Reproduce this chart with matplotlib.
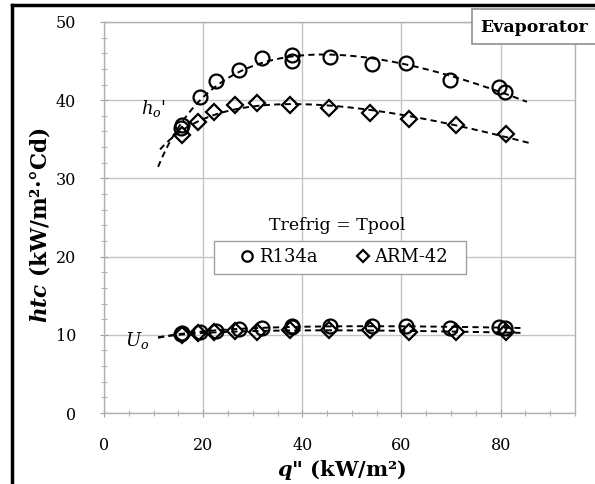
import numpy as np
import matplotlib
matplotlib.use("Agg")
import matplotlib.pyplot as plt
from matplotlib.lines import Line2D
from matplotlib.patches import Rectangle

# ---------------- data ----------------
q_r134a = [15.5, 15.8, 19.3, 22.5, 27.2, 31.8, 37.9, 38.0, 45.5, 54.0, 61.0, 69.8, 79.7, 80.9]
ho_r134a = [36.4, 36.8, 40.4, 42.5, 43.9, 45.4, 45.8, 45.0, 45.5, 44.6, 44.7, 42.6, 41.7, 41.0]
uo_r134a = [10.1, 10.2, 10.4, 10.5, 10.7, 10.9, 11.0, 11.1, 11.1, 11.1, 11.1, 10.9, 11.0, 10.9]

q_arm42 = [15.7, 19.0, 22.1, 26.4, 30.8, 37.6, 45.3, 53.7, 61.6, 71.0, 81.1]
ho_arm42 = [35.6, 37.2, 38.5, 39.4, 39.6, 39.4, 39.0, 38.4, 37.6, 36.8, 35.7]
uo_arm42 = [10.0, 10.2, 10.3, 10.5, 10.4, 10.6, 10.6, 10.6, 10.4, 10.3, 10.4]

trend_range_ho = [(10.9, 85.3), (11.3, 85.7)]
trend_range_uo = (10.9, 84.0)

xticks = [0, 20, 40, 60, 80]
yticks = [0, 10, 20, 30, 40, 50]

# ---------------- style ----------------
SERIF = ["DejaVu Serif"]
plt.rcParams["font.family"] = SERIF
plt.rcParams["mathtext.fontset"] = "custom"
plt.rcParams["mathtext.rm"] = "DejaVu Serif"
plt.rcParams["mathtext.it"] = "DejaVu Serif:italic"
plt.rcParams["mathtext.bf"] = "DejaVu Serif:bold"
plt.rcParams["mathtext.bfit"] = "DejaVu Serif:bold:italic"

W, H = 595, 484
fig = plt.figure(figsize=(W / 100, H / 100), dpi=100)
ax = fig.add_axes([104 / W, 1 - 413 / H, (575 - 104) / W, (413 - 22) / H])

def fit(x, y):
    x = np.asarray(x, float)
    A = np.column_stack([np.ones_like(x), np.log(x), x])
    coef, *_ = np.linalg.lstsq(A, np.asarray(y, float), rcond=None)
    return coef

def curve(coef, lo, hi):
    xs = np.linspace(lo, hi, 200)
    return xs, coef[0] + coef[1] * np.log(xs) + coef[2] * xs

dash = (0, (3.2, 2.2))
lk = dict(color="black", lw=1.4, linestyle=dash, zorder=3)
for (qq, yy), (lo, hi) in zip([(q_r134a, ho_r134a), (q_arm42, ho_arm42)], trend_range_ho):
    xs, ys = curve(fit(qq, yy), lo, hi)
    ax.plot(xs, ys, **lk)
for qq, yy in [(q_r134a, uo_r134a), (q_arm42, uo_arm42)]:
    xs, ys = curve(fit(qq, yy), *trend_range_uo)
    ax.plot(xs, ys, **lk)

mk_c = dict(marker="o", ms=10, mfc="none", mec="black", mew=1.6, ls="none", zorder=4)
mk_d = dict(marker="D", ms=8, mfc="none", mec="black", mew=1.6, ls="none", zorder=4)
ax.plot(q_r134a, ho_r134a, **mk_c)
ax.plot(q_r134a, uo_r134a, **mk_c)
ax.plot(q_arm42, ho_arm42, **mk_d)
ax.plot(q_arm42, uo_arm42, **mk_d)

ax.set_xlim(0, 95)
ax.set_ylim(0, 50)
ax.set_xticks(xticks)
ax.set_yticks(yticks)
ax.set_xticks(np.arange(0, 96, 5), minor=True)
ax.set_yticks(np.arange(0, 51, 2), minor=True)
ax.grid(True, which="major", color="#c4c4c4", lw=1.0, zorder=0)
ax.set_axisbelow(True)
for s in ax.spines.values():
    s.set_color("#b0b0b0")
    s.set_linewidth(1.0)
ax.tick_params(which="both", color="#a0a0a0", direction="inout")
ax.tick_params(which="major", length=6, labelsize=11.5)
ax.tick_params(which="minor", length=5)
ax.tick_params(axis="y", which="major", pad=17)
ax.tick_params(axis="x", which="major", pad=14)

# axis labels
fig.text(40 / W, 1 - 225 / H, r"$\mathbfit{htc}$ (kW/m²·°Cd)", rotation=90,
         ha="center", va="center", fontsize=15.5, fontweight="bold")
fig.text(342 / W, 1 - 470 / H, r'$\mathbfit{q}$" (kW/m²)',
         ha="center", va="center", fontsize=15, fontweight="bold")

# curve labels
ax.text(9.9, 39.0, r"$h_o$'", fontsize=13, ha="center", va="center")
ax.text(6.6, 9.3, r"$U_o$", fontsize=13, ha="center", va="center")

# legend (title above, framed box drawn separately)
ax.text(47.0, (413 - 225) / 7.82, "Trefrig = Tpool", fontsize=12.5, ha="center", va="center")
ax.add_patch(Rectangle((214 / W, 1 - 274 / H), 252 / W, 33 / H, transform=fig.transFigure,
                       facecolor="white", edgecolor="#a0a0a0", lw=1.0, zorder=2))
handles = [Line2D([], [], marker="o", ms=7.5, mfc="none", mec="black", mew=1.6, ls="none"),
           Line2D([], [], marker="D", ms=6, mfc="none", mec="black", mew=1.6, ls="none")]
leg = ax.legend(handles, ["R134a", "ARM-42"], ncol=2, fontsize=13,
                loc="center", bbox_to_anchor=((343 - 104) / 471, (413 - 257.5) / 391),
                frameon=False, handletextpad=0.15, columnspacing=2.0, handlelength=1.0,
                borderpad=0.2, borderaxespad=0)
leg.set_zorder(6)

# Evaporator box
fig.patches.append(Rectangle((472 / W, 1 - 44 / H), 140 / W, 35 / H, transform=fig.transFigure,
                             fill=True, facecolor="white", edgecolor="#909090", lw=1.2, zorder=5))
fig.text(480 / W, 1 - 27 / H, "Evaporator", fontsize=12.5, fontweight="bold",
         ha="left", va="center", zorder=6)

# outer black border
fig.add_artist(Line2D([12 / W, 12 / W], [0, 1 - 5 / H], color="black", lw=2.5,
                      transform=fig.transFigure))
fig.add_artist(Line2D([12 / W, 1], [1 - 5 / H, 1 - 5 / H], color="black", lw=2.5,
                      transform=fig.transFigure))

fig.savefig("out.png", dpi=100)
